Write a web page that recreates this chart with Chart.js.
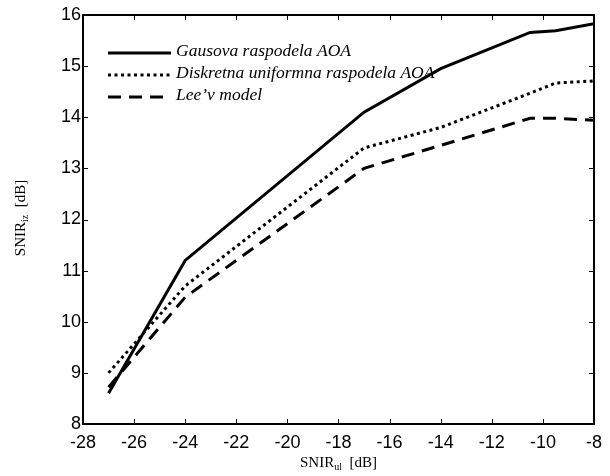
<!DOCTYPE html>
<html>
<head>
<meta charset="utf-8">
<script src="https://cdn.jsdelivr.net/npm/chart.js@4/dist/chart.umd.min.js"></script>
<style>
  html, body { margin: 0; padding: 0; background: #fff; }
  #wrap { width: 610px; height: 476px; position: relative; }
</style>
</head>
<body>
<div id="wrap"><canvas id="c"></canvas></div>
<script>
// SNIR_ul [dB] sample points (shared by all curves)
const snirUl = [-27, -24, -17, -14, -10.5, -9.5, -8];
// SNIR_iz [dB] per model
const gausova = [8.6, 11.2, 14.1, 14.95, 15.66, 15.69, 15.83];
const diskretna = [9.0, 10.7, 13.4, 13.8, 14.47, 14.67, 14.71];
const leeModel = [8.72, 10.48, 13.0, 13.45, 13.98, 13.98, 13.94];
const seriesNames = ['Gausova raspodela AOA', 'Diskretna uniformna raspodela AOA', 'Lee\u2019v model'];
const xTicks = [-28, -26, -24, -22, -20, -18, -16, -14, -12, -10, -8];
const yTicks = [8, 9, 10, 11, 12, 13, 14, 15, 16];

const SERIF = '"Liberation Serif", "Times New Roman", serif';
const SANS = '"Liberation Sans", Arial, sans-serif';

function pts(ys) { return snirUl.map((x, i) => ({ x: x, y: ys[i] })); }

const frame = {
  id: 'frame',
  afterDraw(chart) {
    const { ctx, chartArea: a, scales } = chart;
    ctx.save();
    ctx.strokeStyle = '#000';
    ctx.lineWidth = 2;
    ctx.strokeRect(a.left, a.top, a.right - a.left, a.bottom - a.top);

    // inward ticks on all four sides
    ctx.lineWidth = 1;
    ctx.beginPath();
    xTicks.forEach(v => {
      const px = Math.round(scales.x.getPixelForValue(v)) + 0.5;
      ctx.moveTo(px, a.bottom); ctx.lineTo(px, a.bottom - 5);
      ctx.moveTo(px, a.top); ctx.lineTo(px, a.top + 5);
    });
    yTicks.forEach(v => {
      const py = Math.round(scales.y.getPixelForValue(v)) + 0.5;
      ctx.moveTo(a.left, py); ctx.lineTo(a.left + 5, py);
      ctx.moveTo(a.right, py); ctx.lineTo(a.right - 5, py);
    });
    ctx.stroke();

    // legend
    const rows = [53, 75, 97];
    chart.data.datasets.forEach((ds, i) => {
      ctx.setLineDash(ds.borderDash || []);
      ctx.lineWidth = ds.borderWidth;
      ctx.beginPath();
      ctx.moveTo(108, rows[i]); ctx.lineTo(171, rows[i]);
      ctx.stroke();
      ctx.setLineDash([]);
      ctx.fillStyle = '#000';
      ctx.font = 'italic 17.5px ' + SERIF;
      ctx.textAlign = 'left';
      ctx.textBaseline = 'alphabetic';
      ctx.fillText(ds.label, 176, rows[i] + 3);
    });

    // axis titles with subscripts
    function title(main, sub, rest) {
      ctx.font = '15px ' + SERIF;
      const w1 = ctx.measureText(main).width;
      const w3 = ctx.measureText(rest).width;
      ctx.font = '10px ' + SERIF;
      const w2 = ctx.measureText(sub).width;
      let x = -(w1 + w2 + w3) / 2;
      ctx.fillStyle = '#000';
      ctx.textAlign = 'left';
      ctx.font = '15px ' + SERIF;
      ctx.fillText(main, x, 0); x += w1;
      ctx.font = '10px ' + SERIF;
      ctx.fillText(sub, x, 3); x += w2;
      ctx.font = '15px ' + SERIF;
      ctx.fillText(rest, x, 0);
    }
    ctx.save();
    ctx.translate((a.left + a.right) / 2, 467);
    title('SNIR', 'ul', '  [dB]');
    ctx.restore();
    ctx.save();
    ctx.translate(25, 218);
    ctx.rotate(-Math.PI / 2);
    title('SNIR', 'iz', '  [dB]');
    ctx.restore();
    ctx.restore();
  }
};

new Chart(document.getElementById('c'), {
  type: 'line',
  data: {
    datasets: [
      { label: seriesNames[0], data: pts(gausova), borderColor: '#000', borderWidth: 3, pointRadius: 0, tension: 0 },
      { label: seriesNames[1], data: pts(diskretna), borderColor: '#000', borderWidth: 3, borderDash: [3, 3.5], pointRadius: 0, tension: 0 },
      { label: seriesNames[2], data: pts(leeModel), borderColor: '#000', borderWidth: 3, borderDash: [13, 8], pointRadius: 0, tension: 0 },
    ]
  },
  options: {
    responsive: true, maintainAspectRatio: false, animation: false,
    layout: { padding: { top: 15, right: 12, left: 0, bottom: 0 } },
    plugins: { legend: { display: false }, tooltip: { enabled: false } },
    scales: {
      x: {
        type: 'linear', min: -28, max: -8,
        afterBuildTicks: s => { s.ticks = xTicks.map(v => ({ value: v })); },
        afterFit: s => { s.height = 52; },
        grid: { display: false, drawTicks: false }, border: { display: false },
        ticks: { color: '#000', font: { family: SANS, size: 18 }, padding: 8, maxRotation: 0, autoSkip: false },
      },
      y: {
        min: 8, max: 16,
        afterBuildTicks: s => { s.ticks = yTicks.map(v => ({ value: v })); },
        afterFit: s => { s.width = 83; },
        grid: { display: false, drawTicks: false }, border: { display: false },
        ticks: { color: '#000', font: { family: SANS, size: 18 }, padding: 2, autoSkip: false },
      },
    },
  },
  plugins: [frame],
});
</script>
</body>
</html>
